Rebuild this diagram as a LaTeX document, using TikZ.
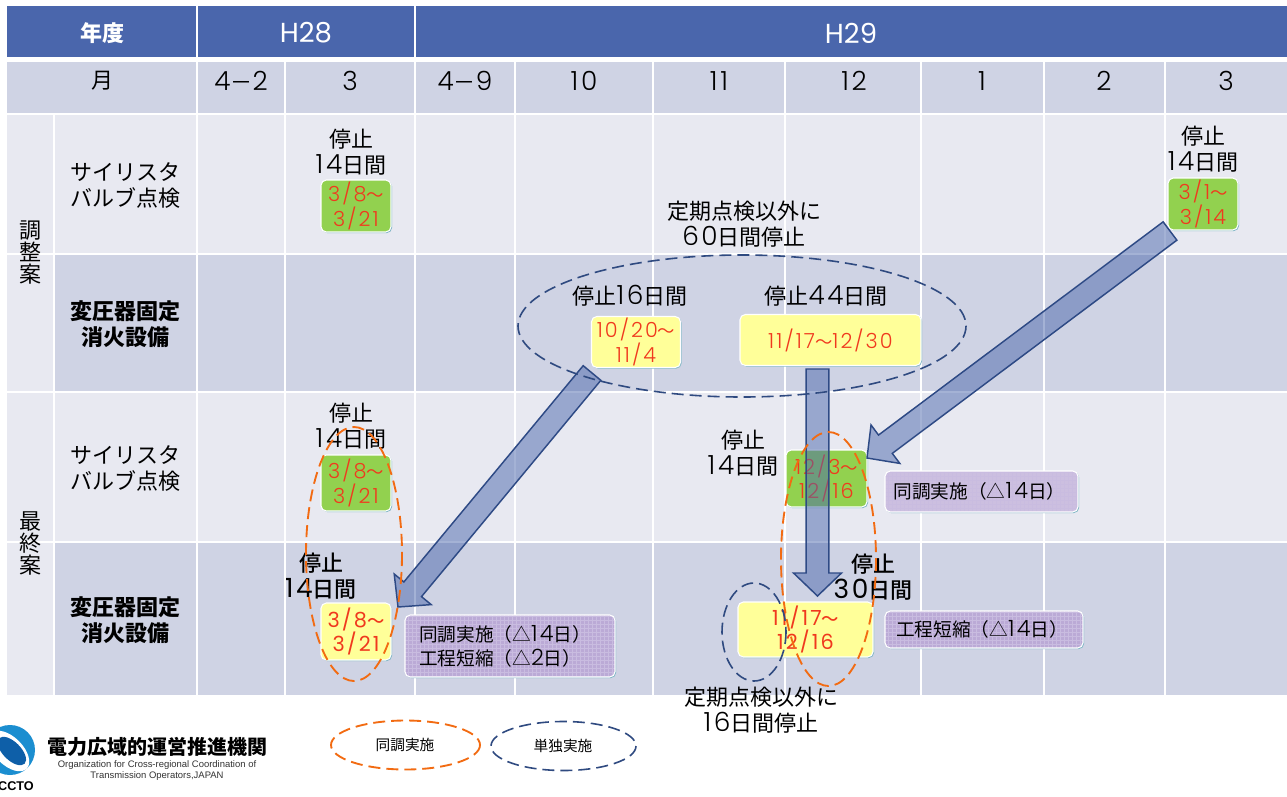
\documentclass[tikz,border=0pt]{standalone}
\usepackage{fontspec}
\setmainfont{Noto Sans CJK JP}
\newfontfamily\numfont[Scale=1.2,LetterSpace=10]{Poppins Light}
\newfontfamily\headfont[Scale=1.25]{Poppins}
\newfontfamily\fakefont{Noto Sans CJK JP Medium}
\newfontfamily\fakenum[Scale=1.2,LetterSpace=10]{Poppins}
\newfontfamily\latinfont{Liberation Sans}
\usetikzlibrary{calc,patterns,shadows}
\definecolor{headblue}{HTML}{4A66AC}
\definecolor{celldark}{HTML}{CFD3E4}
\definecolor{celllight}{HTML}{E8E9F1}
\definecolor{datered}{HTML}{F0391E}
\definecolor{boxgreen}{HTML}{92D14F}
\definecolor{boxyellow}{HTML}{FFFF99}
\definecolor{boxpurple}{HTML}{BBAAD6}
\definecolor{boxcheck}{HTML}{C9BCE0}
\definecolor{arrowline}{HTML}{2E4A85}
\definecolor{dashnavy}{HTML}{2F4A80}
\definecolor{dashorange}{HTML}{F26B12}
\definecolor{boxedge}{HTML}{7FB5C4}
\definecolor{logoblue}{HTML}{1B8ED0}
\definecolor{logodark}{HTML}{0E5FA8}
\newcommand{\nf}[1]{{\numfont #1}}
\newcommand{\nb}[1]{{\fakenum #1}}
\begin{document}
\begin{tikzpicture}[x=0.75pt,y=-0.75pt]

	\useasboundingbox (0,0) rectangle (1287,796);
	\clip (0,0) rectangle (1287,796);
	\def \headrow{33}
	\def \monthrow{81}
	\tikzstyle{t-node}=[text centered,align=center,inner sep=0pt,font=\fontsize{16.5}{19.5}\selectfont]
	\tikzstyle{head-node}=[t-node,text=white]
	\tikzstyle{d-box}=[rounded corners=4pt,draw=white,line width=0.8pt,inner sep=0pt,align=center,text=datered,font=\fontsize{13}{15.5}\selectfont,general shadow={shadow xshift=0.8pt,shadow yshift=-0.8pt,fill=boxedge}]
	\tikzstyle{g-box}=[d-box,fill=boxgreen]
	\tikzstyle{y-box}=[d-box,fill=boxyellow]
	\tikzstyle{p-box}=[d-box,text=black,font=\fontsize{14}{18}\selectfont,preaction={fill=boxpurple},pattern=grid,pattern color=boxcheck]
	\tikzstyle{block-arrow}=[draw=arrowline,line width=1.1pt,fill=headblue,fill opacity=0.5,line join=miter]
	\tikzstyle{o-ring}=[draw=dashorange,line width=1.4pt,dash pattern=on 9pt off 4.5pt]
	\tikzstyle{n-ring}=[draw=dashnavy,line width=1.2pt,dash pattern=on 9pt off 4.5pt]
	\def \blockarrow#1#2{
		\coordinate (neck) at ($(#2)!17.25pt!(#1)$);
		\draw[block-arrow] ($(#1)!8.6pt!90:(#2)$) -- ($(neck)!8.6pt!-90:(#1)$) -- ($(neck)!18pt!-90:(#1)$) -- (#2) -- ($(neck)!18pt!90:(#1)$) -- ($(neck)!8.6pt!90:(#1)$) -- ($(#1)!8.6pt!-90:(#2)$) -- cycle;
	}

	% table
	\fill[headblue] (7,6) rectangle (1287,57);
	\fill[celldark] (7,62) rectangle (1287,113);
	\fill[celllight] (7,115) rectangle (1287,253);
	\fill[celldark] (54,255) rectangle (1287,391);
	\fill[celllight] (7,255) rectangle (54,391);
	\fill[celllight] (7,393) rectangle (1287,541);
	\fill[celldark] (54,543) rectangle (1287,695);
	\fill[celllight] (7,543) rectangle (54,695);
	\draw[white,line width=1.5pt] (197,6) -- (197,695);
	\draw[white,line width=1.5pt] (415,6) -- (415,695);
	\draw[white,line width=1.2pt] (285,62) -- (285,695);
	\draw[white,line width=1.2pt] (515,62) -- (515,695);
	\draw[white,line width=1.2pt] (653,62) -- (653,695);
	\draw[white,line width=1.2pt] (785,62) -- (785,695);
	\draw[white,line width=1.2pt] (921,62) -- (921,695);
	\draw[white,line width=1.2pt] (1044,62) -- (1044,695);
	\draw[white,line width=1.2pt] (1165,62) -- (1165,695);
	\draw[white,line width=1.2pt] (54,115) -- (54,695);

	% labels
	\node[head-node] (h0) at (102,\headrow) {\textbf{年度}};
	\node[head-node] (h1) at (306,\headrow) {{\headfont H28}};
	\node[head-node] (h2) at (851,\headrow) {{\headfont H29}};
	\node[t-node] (m0) at (102,\monthrow) {月};
	\node[t-node] (m1) at (241,\monthrow) {\nf{4}－\nf{2}};
	\node[t-node] (m2) at (350,\monthrow) {\nf{3}};
	\node[t-node] (m3) at (465,\monthrow) {\nf{4}－\nf{9}};
	\node[t-node] (m4) at (584,\monthrow) {\nf{10}};
	\node[t-node] (m5) at (719,\monthrow) {\nf{11}};
	\node[t-node] (m6) at (854,\monthrow) {\nf{12}};
	\node[t-node] (m7) at (982,\monthrow) {\nf{1}};
	\node[t-node] (m8) at (1104,\monthrow) {\nf{2}};
	\node[t-node] (m9) at (1226,\monthrow) {\nf{3}};
	\node[t-node,font=\fontsize{16.5}{16.5}\selectfont] (r0) at (30,253) {調\\整\\案};
	\node[t-node,font=\fontsize{16.5}{16.5}\selectfont] (r1) at (30,543) {最\\終\\案};
	\node[t-node] (l0) at (125,185) {サイリスタ\\バルブ点検};
	\node[t-node] (l1) at (125,324) {\textbf{変圧器固定}\\\textbf{消火設備}};
	\node[t-node] (l2) at (125,468) {サイリスタ\\バルブ点検};
	\node[t-node] (l3) at (125,620) {\textbf{変圧器固定}\\\textbf{消火設備}};

	% stop periods
	\node[t-node] (s0) at (351,152) {停止\\\nf{14}日間};
	\node[t-node] (s1) at (1203,149) {停止\\\nf{14}日間};
	\node[t-node] (s2) at (744,224) {定期点検以外に\\\nf{60}日間停止};
	\node[t-node] (s3) at (630,296) {停止\nf{16}日間};
	\node[t-node] (s4) at (826,296) {停止\nf{44}日間};
	\node[t-node] (s5) at (351,426) {停止\\\nf{14}日間};
	\node[t-node] (s6) at (743,453) {停止\\\nf{14}日間};

	% date boxes
	\node[g-box,minimum width=52.5pt,minimum height=39pt] (b0) at (356,206) {\nf{3/8}～\\\nf{3/21}};
	\node[g-box,minimum width=52.5pt,minimum height=39pt] (b1) at (1203,204) {\nf{3/1}～\\\nf{3/14}};
	\node[y-box,minimum width=66.75pt,minimum height=38.25pt] (b2) at (636,342) {\nf{10/20}～\\\nf{11/4}};
	\node[y-box,minimum width=135.75pt,minimum height=38.25pt] (b3) at (830.5,340) {\nf{11/17}～\nf{12/30}};
	\node[g-box,minimum width=52.5pt,minimum height=42pt] (b4) at (356,483) {\nf{3/8}～\\\nf{3/21}};
	\node[g-box,minimum width=60.75pt,minimum height=42.75pt] (b5) at (826.5,478.5) {\nf{12/3}～\\\nf{12/16}};
	\node[y-box,minimum width=52.5pt,minimum height=42.75pt] (b6) at (356,631.5) {\nb{3/8}{\fakefont ～}\\\nb{3/21}};
	\node[y-box,minimum width=101.25pt,minimum height=41.25pt] (b7) at (805.5,629.5) {\nb{11/17}{\fakefont ～}\\\nb{12/16}};

	% remarks
	\node[p-box,preaction={fill=white,fill opacity=0.25},minimum width=144.75pt,minimum height=30.75pt] (c0) at (981.5,491.5) {同調実施（△\nf{14}日）\hspace*{3pt}};
	\node[p-box,minimum width=157.5pt,minimum height=46.5pt,align=left] (c1) at (510,646) {同調実施（△\nf{14}日）\hspace*{7.5pt}\\工程短縮（△\nf{2}日）};
	\node[p-box,minimum width=148.5pt,minimum height=27.75pt] (c2) at (984,629.5) {工程短縮（△\nf{14}日）\hspace*{3pt}};
	\node[t-node] (s7) at (321,576) {{\fakefont 停止}\\\nb{14}{\fakefont 日間}};
	\node[t-node] (s8) at (873,577) {{\fakefont 停止}\\\nb{30}{\fakefont 日間}};
	\node[t-node] (s9) at (761,710) {定期点検以外に\\\nf{16}日間停止};

	% arrows
	\coordinate (a0s) at (1170,231);
	\coordinate (a0e) at (867,458);
	\coordinate (a1s) at (592,373);
	\coordinate (a1e) at (398,607);
	\coordinate (a2s) at (817.5,369);
	\coordinate (a2e) at (817.5,596);
	\blockarrow{a0s}{a0e}
	\blockarrow{a1s}{a1e}
	\blockarrow{a2s}{a2e}

	% rings
	\draw[n-ring] (742,326) ellipse [x radius=224,y radius=71];
	\draw[o-ring] (354,554) ellipse [x radius=48,y radius=127];
	\draw[o-ring] (828.5,559) ellipse [x radius=47.5,y radius=127];
	\draw[n-ring] (754,632) ellipse [x radius=32,y radius=49];

	% legend
	\draw[o-ring] (405.5,745) ellipse [x radius=74.5,y radius=24.5];
	\draw[n-ring] (563.5,746) ellipse [x radius=72.5,y radius=24.5];
	\node[t-node,font=\fontsize{11}{13}\selectfont] (k0) at (405,745) {同調実施};
	\node[t-node,font=\fontsize{11}{13}\selectfont] (k1) at (563,746) {単独実施};

	% logo
	\fill[logoblue] (10,750) ellipse [x radius=25,y radius=25];
	\fill[white,rotate around={-45:(9,751)}] (9,751) ellipse [x radius=25,y radius=14];
	\fill[logodark,rotate around={-45:(9,751)}] (11,749) ellipse [x radius=18,y radius=9];
	\node[t-node,font=\latinfont\bfseries\fontsize{9.5}{11}\selectfont] (g0) at (16,786) {CCTO};
	\node[t-node,font=\bfseries\fontsize{15}{17}\selectfont] (g1) at (157,747) {電力広域的運営推進機関};
	\node[t-node,font=\latinfont\fontsize{7.1}{8.2}\selectfont,text=black!80] (g2) at (157,771) {Organization for Cross-regional Coordination of\\Transmission Operators,JAPAN};
\end{tikzpicture}
\end{document}
